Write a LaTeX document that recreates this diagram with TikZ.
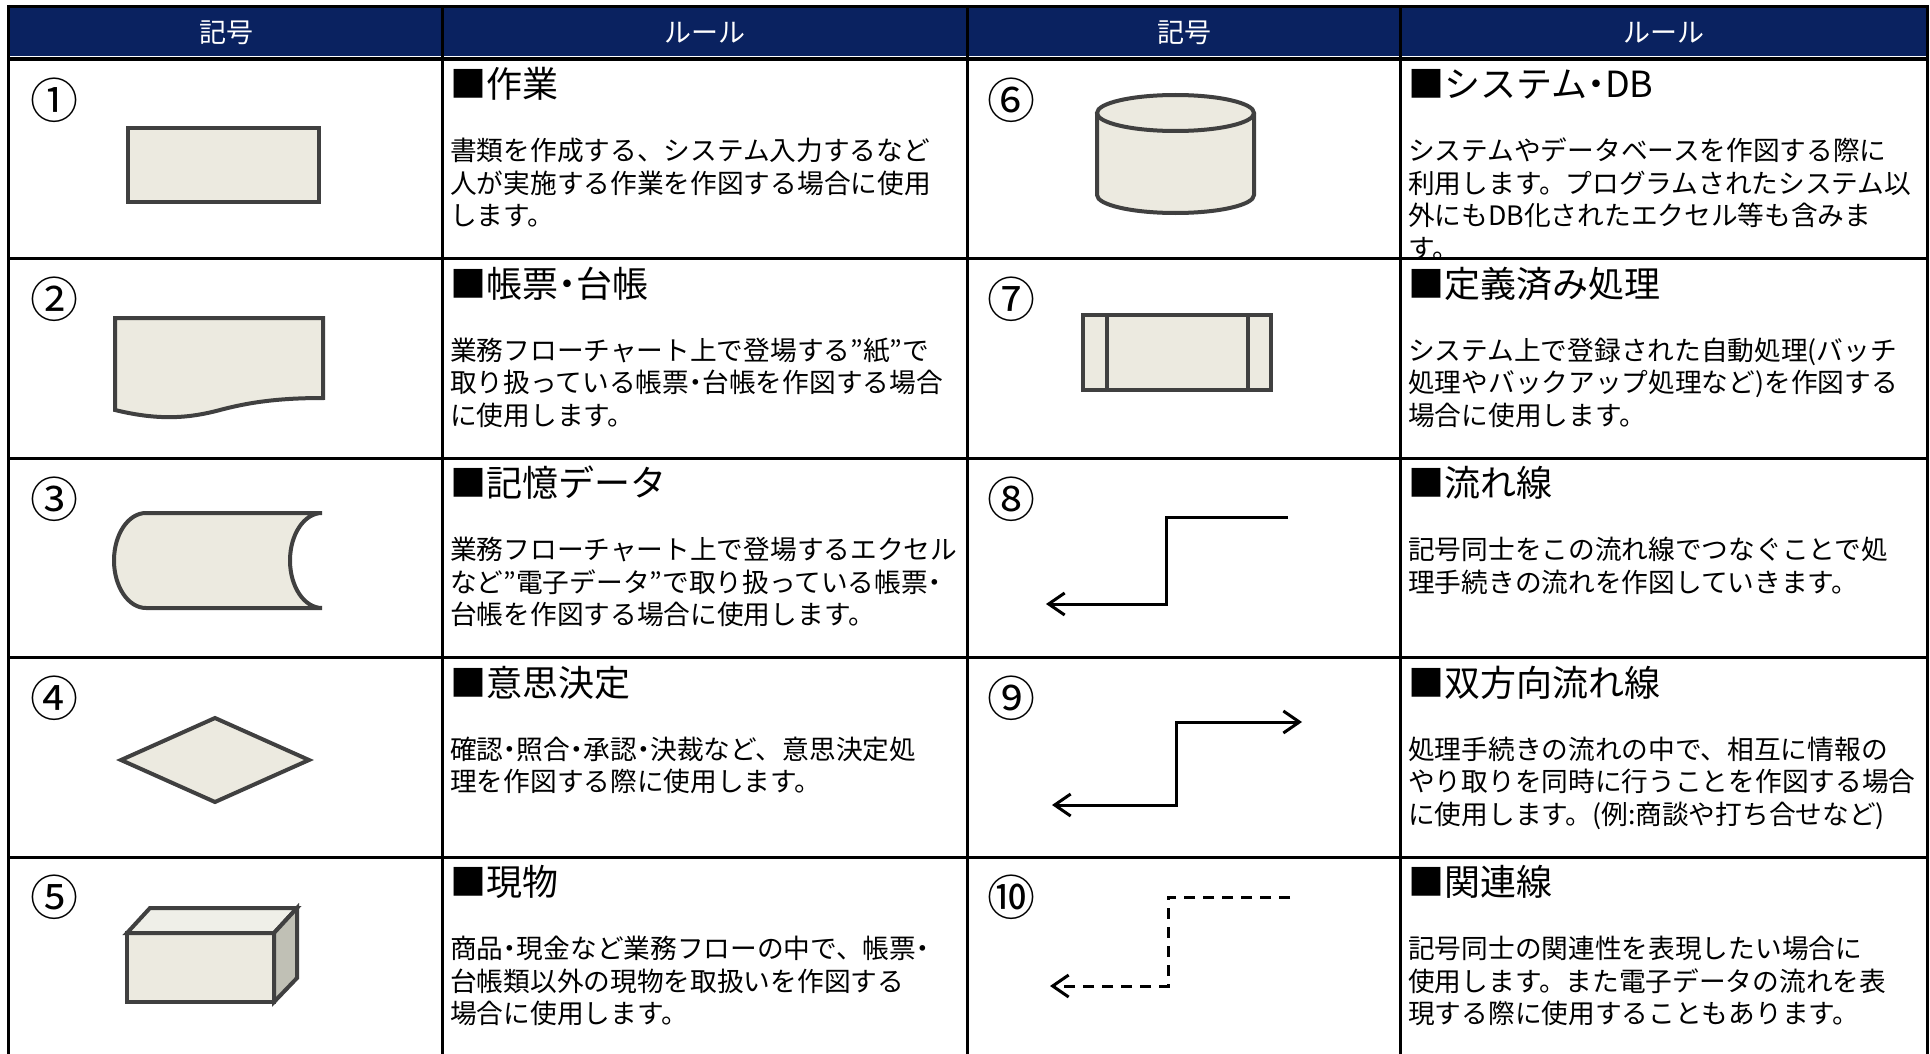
\documentclass[tikz,border=0pt]{standalone}
\usepackage{fontspec}
\setmainfont{Noto Sans CJK JP}
\usetikzlibrary{arrows.meta}

\newcommand{\nakadot}{{\addfontfeature{RawFeature=+palt}・}}

\definecolor{headnavy}{HTML}{0A2260}
\definecolor{symfill}{HTML}{ECEAE0}
\definecolor{symtop}{HTML}{EFEFE8}
\definecolor{symside}{HTML}{C0C0B5}
\definecolor{symline}{HTML}{404040}

\tikzset{
    gridline/.style={line width=3pt, black},
    headtext/.style={text=white, inner sep=0pt, font=\fontsize{27}{32}\selectfont},
    numtext/.style={inner sep=0pt, font=\fontsize{48}{52}\selectfont},
    titletext/.style={anchor=west, inner sep=0pt, font=\fontsize{36}{40}\selectfont},
    bodytext/.style={anchor=north west, inner sep=0pt, align=left, font=\fontsize{26.7}{32.5}\selectfont},
    symbol/.style={fill=symfill, draw=symline, line width=4pt},
    flowline/.style={line width=3pt, black, -{Straight Barb[length=16pt,width=22pt]}},
}

\begin{document}
\begin{tikzpicture}[x=1pt, y=-1pt]
    \useasboundingbox (0,0) rectangle (1930,1054);
    \fill[white] (0,0) rectangle (1930,1054);

    % header
    \fill[headnavy] (10,7) rectangle (1927,56);
    \node[headtext] (head1) at (226,33) {記号};
    \node[headtext] (head2) at (705,33) {ルール};
    \node[headtext] (head3) at (1184,33) {記号};
    \node[headtext] (head4) at (1664,33) {ルール};

    \foreach \n/\c/\x/\y in {1/①/54/100, 2/②/54/299, 3/③/54/499, 4/④/54/698, 5/⑤/54/897,
                             6/⑥/1011/100, 7/⑦/1011/299, 8/⑧/1011/499, 9/⑨/1011/698, 10/⑩/1011/897}
        \node[numtext] (num\n) at (\x,\y) {\c};

    % symbols
    \draw[symbol] (128,128) rectangle (319,202);

    \draw[symbol] (115,318) -- (323,318) -- (323,398)
        .. controls (280,398) and (250,402) .. (220,410)
        .. controls (190,418) and (160,421) .. (115,410) -- cycle;

    \draw[symbol] (146,513) arc[start angle=270, end angle=90, x radius=32, y radius=47.5]
        -- (322,608) arc[start angle=90, end angle=270, x radius=32, y radius=47.5] -- cycle;

    \draw[symbol] (215,718) -- (309,760) -- (215,802) -- (121,760) -- cycle;

    \draw[symbol] (127,933) rectangle (274,1002);
    \draw[symbol, fill=symtop] (127,933) -- (150,908) -- (297,908) -- (274,933) -- cycle;
    \draw[symbol, fill=symside] (274,933) -- (297,908) -- (297,978) -- (274,1002) -- cycle;

    \draw[symbol] (1097,113) -- (1097,195) arc[start angle=180, end angle=0, x radius=78.5, y radius=18] -- (1254,113);
    \draw[symbol] (1175.5,113) circle[x radius=78.5, y radius=18];

    \draw[symbol] (1083,315) rectangle (1271,390);
    \draw[symbol] (1107,315) -- (1107,390) (1248,315) -- (1248,390);

    \coordinate (f8a) at (1288,517);
    \coordinate (f8b) at (1046,604);
    \draw[flowline] (f8a) -- ++(-122,0) |- (f8b);

    \coordinate (f9a) at (1302,722);
    \coordinate (f9b) at (1052,805);
    \draw[flowline, {Straight Barb[length=16pt,width=22pt]}-{Straight Barb[length=16pt,width=22pt]}] (f9b) -- ++(124,0) |- (f9a);

    \coordinate (f10a) at (1290,897);
    \coordinate (f10b) at (1050,986);
    \draw[flowline, dash pattern=on 11pt off 8pt] (f10a) -- ++(-122,0) |- (f10b);

    % rules
    \node[titletext] (title1) at (450,84) {■作業};
    \node[bodytext] (body1) at (450,138) {書類を作成する、システム入力するなど\\人が実施する作業を作図する場合に使用\\します。};

    \node[titletext] (title2) at (450,283.5) {■帳票\nakadot 台帳};
    \node[bodytext] (body2) at (450,337.5) {業務フローチャート上で登場する”紙”で\\取り扱っている帳票\nakadot 台帳を作図する場合\\に使用します。};

    \node[titletext] (title3) at (450,483) {■記憶データ};
    \node[bodytext] (body3) at (450,537) {業務フローチャート上で登場するエクセル\\など”電子データ”で取り扱っている帳票\nakadot\\台帳を作図する場合に使用します。};

    \node[titletext] (title4) at (450,682.5) {■意思決定};
    \node[bodytext] (body4) at (450,736.5) {確認\nakadot 照合\nakadot 承認\nakadot 決裁など、意思決定処\\理を作図する際に使用します。};

    \node[titletext] (title5) at (450,882) {■現物};
    \node[bodytext] (body5) at (450,936) {商品\nakadot 現金など業務フローの中で、帳票\nakadot\\台帳類以外の現物を取扱いを作図する\\場合に使用します。};

    \node[titletext] (title6) at (1408,84) {■システム\nakadot DB};
    \begin{scope}
        \clip (1400,59) rectangle (1927,258.5);
        \node[bodytext] (body6) at (1408,138) {システムやデータベースを作図する際に\\利用します。プログラムされたシステム以\\外にもDB化されたエクセル等も含みま\\す。};
    \end{scope}

    \node[titletext] (title7) at (1408,283.5) {■定義済み処理};
    \node[bodytext] (body7) at (1408,337.5) {システム上で登録された自動処理(バッチ\\処理やバックアップ処理など)を作図する\\場合に使用します。};

    \node[titletext] (title8) at (1408,483) {■流れ線};
    \node[bodytext] (body8) at (1408,537) {記号同士をこの流れ線でつなぐことで処\\理手続きの流れを作図していきます。};

    \node[titletext] (title9) at (1408,682.5) {■双方向流れ線};
    \node[bodytext] (body9) at (1408,736.5) {処理手続きの流れの中で、相互に情報の\\やり取りを同時に行うことを作図する場合\\に使用します。(例:商談や打ち合せなど)};

    \node[titletext] (title10) at (1408,882) {■関連線};
    \node[bodytext] (body10) at (1408,936) {記号同士の関連性を表現したい場合に\\使用します。また電子データの流れを表\\現する際に使用することもあります。};

    % grid
    \draw[gridline] (8.5,6.5) -- (1928.5,6.5);
    \draw[gridline, line width=3.5pt] (8.5,59) -- (1928.5,59);
    \foreach \y in {258.5, 458, 657.5, 857}
        \draw[gridline] (8.5,\y) -- (1928.5,\y);
    \foreach \x in {8.5, 442, 967.5, 1400, 1927}
        \draw[gridline] (\x,5) -- (\x,1054);

\end{tikzpicture}
\end{document}
